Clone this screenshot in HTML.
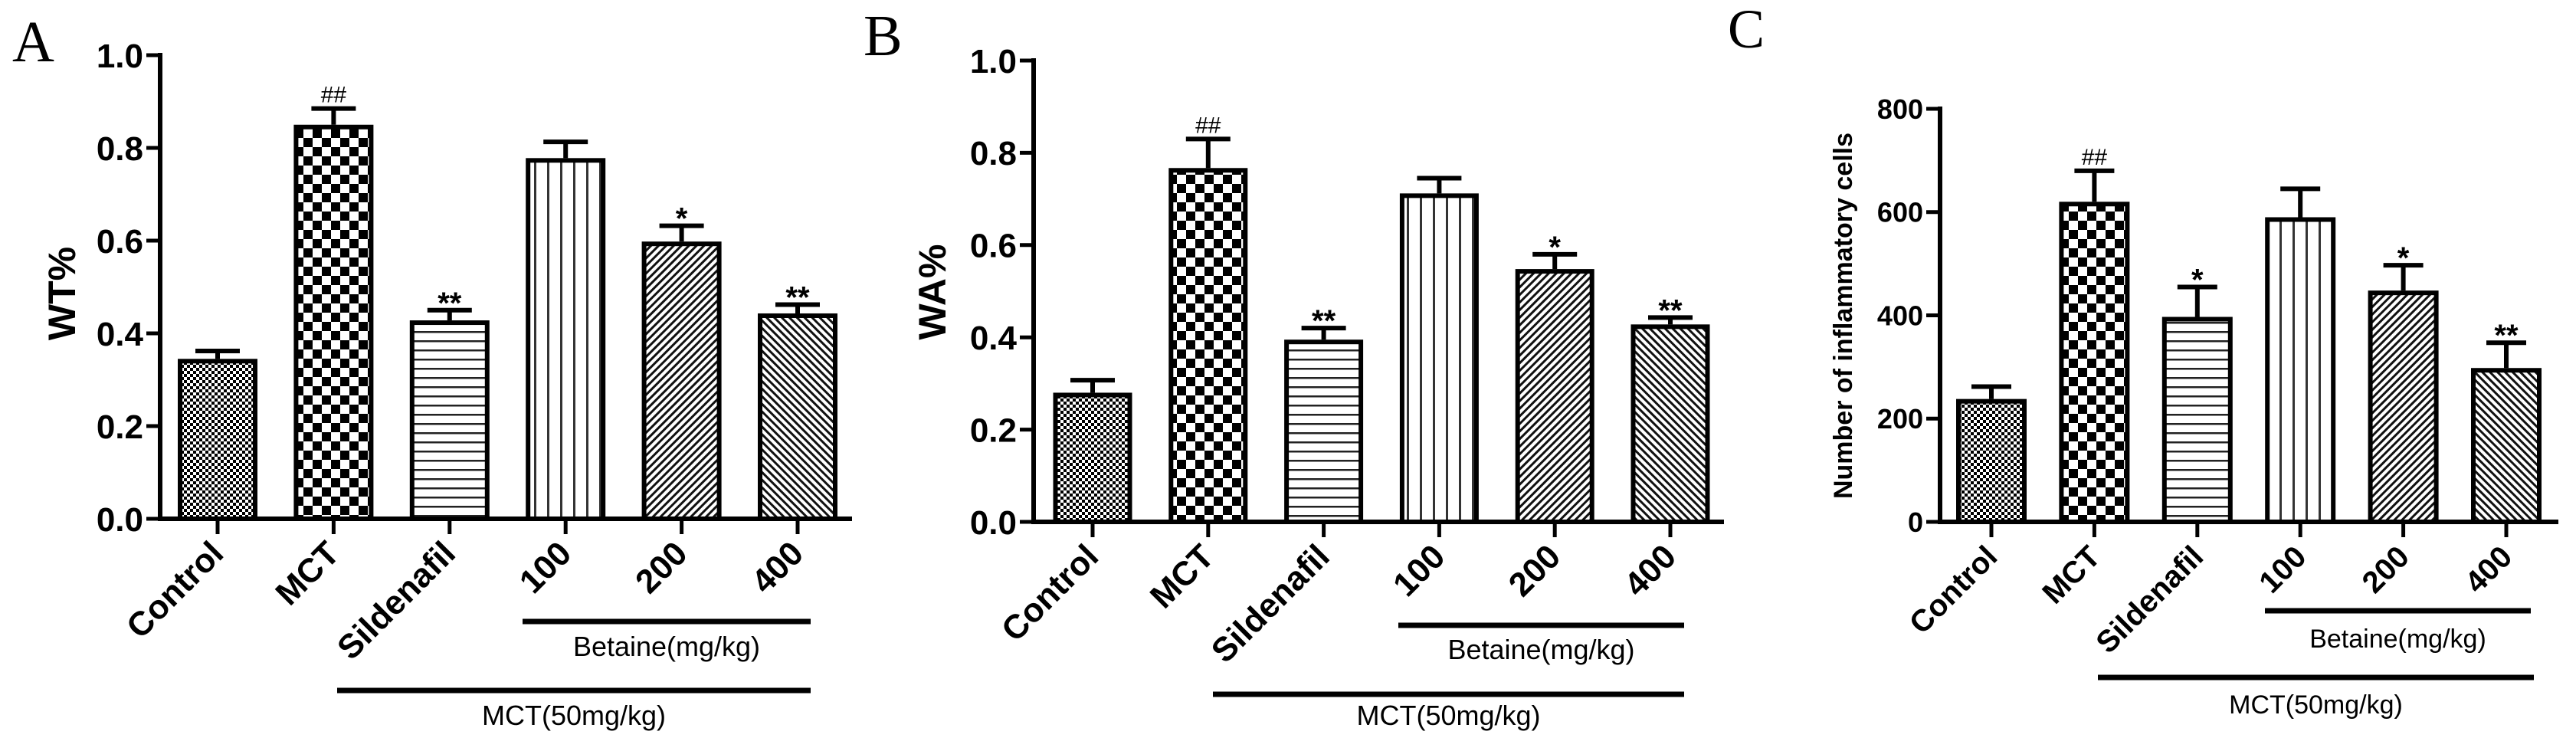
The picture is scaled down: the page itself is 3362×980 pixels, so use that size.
<!DOCTYPE html>
<html><head><meta charset="utf-8"><style>
html,body{margin:0;padding:0;background:#fff;}
svg{display:block;}
text{font-family:"Liberation Sans",Arial,sans-serif;}
</style></head><body>
<svg id="fig" width="3362" height="980" viewBox="0 0 3362 980" xmlns="http://www.w3.org/2000/svg">
<defs>
<pattern id="p0" patternUnits="userSpaceOnUse" width="8" height="8"><rect width="8" height="8" fill="#fff"/><rect width="4" height="4" fill="#000"/><rect x="4" y="4" width="4" height="4" fill="#000"/></pattern>
<pattern id="p1" patternUnits="userSpaceOnUse" width="24" height="24"><rect width="24" height="24" fill="#fff"/><rect width="12" height="12" fill="#000"/><rect x="12" y="12" width="12" height="12" fill="#000"/></pattern>
<pattern id="p2" patternUnits="userSpaceOnUse" width="12" height="12"><rect width="12" height="12" fill="#fff"/><rect y="0" width="12" height="2.5" fill="#222"/></pattern>
<pattern id="p3" patternUnits="userSpaceOnUse" width="17" height="17"><rect width="17" height="17" fill="#fff"/><rect x="0" width="3" height="17" fill="#333"/></pattern>
<pattern id="p4" patternUnits="userSpaceOnUse" width="7" height="7" patternTransform="rotate(45)"><rect width="7" height="7" fill="#fff"/><rect width="3" height="7" fill="#111"/></pattern>
<pattern id="p5" patternUnits="userSpaceOnUse" width="7" height="7" patternTransform="rotate(-45)"><rect width="7" height="7" fill="#fff"/><rect width="3" height="7" fill="#111"/></pattern>
</defs>
<text x="16" y="80" font-size="76" style="font-family:'Liberation Serif',serif">A</text>
<text x="1127" y="72" font-size="76" style="font-family:'Liberation Serif',serif">B</text>
<text x="2255" y="62" font-size="72" style="font-family:'Liberation Serif',serif">C</text>
</svg>
<script>
const categories = ["Control","MCT","Sildenafil","100","200","400"];
const wtValues = [0.345, 0.85, 0.428, 0.778, 0.598, 0.443];
const wtErrors = [0.017, 0.035, 0.022, 0.035, 0.034, 0.019];
const waValues = [0.28, 0.767, 0.395, 0.712, 0.548, 0.428];
const waErrors = [0.027, 0.063, 0.025, 0.033, 0.032, 0.015];
const cellValues = [238, 620, 397, 590, 448, 298];
const cellErrors = [24, 60, 58, 55, 49, 49];
const wtSig = ["", "##", "**", "", "*", "**"];
const waSig = ["", "##", "**", "", "*", "**"];
const cellSig = ["", "##", "*", "", "*", "**"];
const ratioTicks = [0, 0.2, 0.4, 0.6, 0.8, 1.0];
const ratioTickLabels = ["0.0","0.2","0.4","0.6","0.8","1.0"];
const cellTicks = [0, 200, 400, 600, 800];
const cellTickLabels = ["0","200","400","600","800"];

const NS = "http://www.w3.org/2000/svg";
const svg = document.getElementById('fig');
function mk(tag, attrs, parent){
  const e = document.createElementNS(NS, tag);
  for (const k in attrs) e.setAttribute(k, attrs[k]);
  (parent||svg).appendChild(e);
  return e;
}
const pats = ["url(#p0)","url(#p1)","url(#p2)","url(#p3)","url(#p4)","url(#p5)"];

function panel(cfg, vals, errs, sig, ticks, tickLabels){
  const g = mk('g', {});
  
  
  const yS = v => cfg.y0 - (v - 0) / (cfg.max) * (cfg.y0 - cfg.yTop);
  const xS = i => cfg.x0 + i * cfg.step;
  // y axis
  const ya = mk('line', {x1:cfg.ax, y1:cfg.yTop-3, x2:cfg.ax, y2:cfg.y0+3, stroke:'#000','stroke-width':6}, g);
  
  
  ticks.forEach((t, i) => {
    const y = yS(t);
    const tl = mk('line', {x1:cfg.ax-18, y1:y, x2:cfg.ax, y2:y, stroke:'#000','stroke-width':5}, g);
    
    
    const tx = mk('text', {x:cfg.ax-22, y:y + cfg.tickFont*0.36, 'font-size':cfg.tickFont, 'font-weight':'bold', 'text-anchor':'end'}, g);
    tx.textContent = tickLabels[i];
    
    
  });
  // y title
  const yt = mk('text', {x:cfg.titleX, y:cfg.titleY, 'font-size':cfg.titleFont, 'font-weight':'bold', 'text-anchor':'middle', transform:`rotate(-90 ${cfg.titleX} ${cfg.titleY})`, 'dominant-baseline':'central'}, g);
  yt.textContent = cfg.title;
  
  
  // bars
  vals.forEach((v, i) => {
    const cx = xS(i), top = yS(v), et = yS(v + errs[i]);
    const el = mk('line', {x1:cx, y1:top, x2:cx, y2:et, stroke:'#000','stroke-width':6}, g);
    
    
    const ec = mk('line', {x1:cx-cfg.capW/2, y1:et, x2:cx+cfg.capW/2, y2:et, stroke:'#000','stroke-width':6}, g);
    
    
    const r = mk('rect', {x:cx-cfg.barW/2+3, y:top+3, width:cfg.barW-6, height:cfg.y0-top-3, fill:pats[i], stroke:'#000','stroke-width':6}, g);
    
    
    if (sig[i]) {
      const isHash = sig[i].indexOf('#') >= 0;
      const s = mk('text', {x:cx, y: et - (isHash ? 8 : -4), 'font-size': isHash ? 30 : 40, 'font-weight': isHash ? 'normal' : 'bold', 'text-anchor':'middle'}, g);
      s.textContent = sig[i];
      
      
    }
    // x tick
    const xt = mk('line', {x1:cx, y1:cfg.y0, x2:cx, y2:cfg.y0+20, stroke:'#000','stroke-width':5}, g);
    
    
    const lx = cx + 10, ly = cfg.y0 + 48;
    const lt = mk('text', {x:lx, y:ly, 'font-size':cfg.catFont, 'font-weight':'bold', 'text-anchor':'end', transform:`rotate(-45 ${lx} ${ly})`}, g);
    lt.textContent = categories[i];
    
    
  });
  // x axis
  const xa = mk('line', {x1:cfg.ax-3, y1:cfg.y0, x2:cfg.axEnd, y2:cfg.y0, stroke:'#000','stroke-width':6}, g);
  
  
  // brackets
  const b1 = mk('line', {x1:cfg.bet[0], y1:cfg.bet[2], x2:cfg.bet[1], y2:cfg.bet[2], stroke:'#000','stroke-width':7}, g);
  
  
  const bt = mk('text', {x:(cfg.bet[0]+cfg.bet[1])/2, y:cfg.bet[3], 'font-size':cfg.grpFont, 'text-anchor':'middle'}, g);
  bt.textContent = 'Betaine(mg/kg)';
  
  
  const b2 = mk('line', {x1:cfg.mct[0], y1:cfg.mct[2], x2:cfg.mct[1], y2:cfg.mct[2], stroke:'#000','stroke-width':7}, g);
  
  
  const mt = mk('text', {x:(cfg.mct[0]+cfg.mct[1])/2, y:cfg.mct[3], 'font-size':cfg.grpFont, 'text-anchor':'middle'}, g);
  mt.textContent = 'MCT(50mg/kg)';
  
  
}

panel({name:'wt-chart', ax:209, y0:677, yTop:72, max:1.0, x0:284, step:151.4, barW:104, capW:58, axEnd:1112,
  tickFont:44, catFont:44, title:'WT%', titleX:81, titleY:383, titleFont:50, grpFont:36,
  bet:[682,1058,811,856], mct:[440,1058,901,946]}, wtValues, wtErrors, wtSig, ratioTicks, ratioTickLabels);
panel({name:'wa-chart', ax:1349, y0:681, yTop:79, max:1.0, x0:1426, step:150.8, barW:103, capW:58, axEnd:2250,
  tickFont:44, catFont:44, title:'WA%', titleX:1217, titleY:381, titleFont:50, grpFont:36,
  bet:[1825,2198,816,860], mct:[1583,2198,906,946]}, waValues, waErrors, waSig, ratioTicks, ratioTickLabels);
panel({name:'cells-chart', ax:2532, y0:681, yTop:142, max:800, x0:2599, step:134.4, barW:92, capW:52, axEnd:3339,
  tickFont:36, catFont:40, title:'Number of inflammatory cells', titleX:2406, titleY:412, titleFont:34, grpFont:34,
  bet:[2956,3303,797,845], mct:[2738,3307,884,931]}, cellValues, cellErrors, cellSig, cellTicks, cellTickLabels);
</script>
</body></html>
